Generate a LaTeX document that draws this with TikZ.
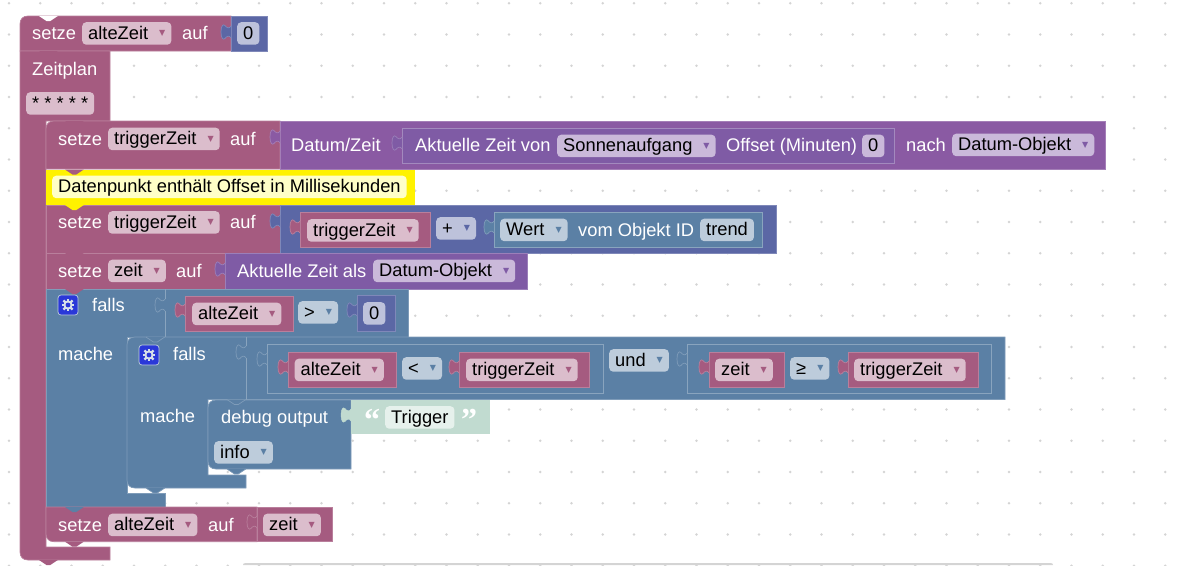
\documentclass[tikz,border=0pt]{standalone}
\usepackage{fontspec}
\setmainfont{Liberation Sans}
\newfontfamily\symfont{DejaVu Sans}
\newfontfamily\quotefont{Liberation Serif}
\definecolor{griddot}{HTML}{D4D4D4}
\definecolor{pinkblock}{HTML}{A55B80}
\definecolor{blueblock}{HTML}{5B80A5}
\definecolor{indigoblock}{HTML}{5B67A5}
\definecolor{dateblock}{HTML}{8A5AA3}
\definecolor{timeblock}{HTML}{7F5BA5}
\definecolor{textblock}{HTML}{C1DBD0}
\definecolor{pinkfield}{HTML}{DBBDCC}
\definecolor{bluefield}{HTML}{BDCCDB}
\definecolor{indigofield}{HTML}{BDC2DB}
\definecolor{purplefield}{HTML}{CAB9DA}
\definecolor{textfield}{HTML}{E6F1EC}
\definecolor{notefield}{HTML}{FFFFC7}
\definecolor{gearblue}{HTML}{2A38D8}
\newcommand{\drop}[1]{\hspace{11pt}\raisebox{3.5pt}{\symfont\fontsize{8}{8}\selectfont\textcolor{#1}{▼}}\hspace{9pt}}
\begin{document}
\begin{tikzpicture}[x=1pt,y=-1pt,font=\fontsize{18.3}{22}\selectfont]
	\tikzset{block/.style = {fill=#1, draw=#1!78!white, line width=.7pt}}
	\tikzset{wrap/.style = {draw=#1!72!white, line width=.7pt}}
	\tikzset{lbl/.style = {text=white, inner sep=0pt, anchor=base west}}
	\tikzset{field/.style = {fill=#1, text=black, anchor=north west, rounded corners=4pt, inner xsep=6pt, inner ysep=0pt, text height=17pt, text depth=5.5pt}}
	\tikzset{tab/.pic = {\path[pic actions] (0,1) .. controls (-2,4) and (-4,3) .. (-6,.5) .. controls (-8,-1.5) and (-10,1) .. (-10,7) .. controls (-10,13) and (-8,15.5) .. (-6,13.5) .. controls (-4,11) and (-2,10) .. (0,13);}}
	\tikzset{notch/.pic = {\path[pic actions] (0,0) -- (7.5,5) -- (11.25,5) -- (18.75,0);}}
	\tikzset{gearbox/.pic = {
		\draw[fill=gearblue, draw=bluefield, line width=.7pt, rounded corners=3pt] (0,0) rectangle (20,20);
		\foreach \a in {0,45,...,315} \draw[bluefield!60!white, line width=2.2pt] (10,10) ++(\a:3.5) -- ++(\a:2.9);
		\fill[bluefield!60!white] (10,10) circle (4.6);
		\fill[gearblue] (10,10) circle (2.4);}}
	\useasboundingbox (0,0) rectangle (1185,565);
	% Background grid
	\foreach \i in {0,...,37} \foreach \j in {0,...,18}
		\fill[griddot] ({9+31.25*\i},{3.3+31.25*\j}) circle (1.4);
	\fill[griddot] (243,565) .. controls (243,563.5) and (244,563) .. (246,563) -- (1050,563) .. controls (1052,563) and (1053,563.5) .. (1053,565) -- cycle;
	% Top block
	\draw[block=pinkblock] (20,51) -- (20,24) .. controls (20,19) and (23,16) .. (28,16) -- (231,16) -- (231,51) -- cycle;
	\node[lbl] (setzeA) at (32,39) {setze};
	\node[field=pinkfield] (alteZeitA) at (82,22) {alteZeit\drop{pinkblock}};
	\node[lbl] (aufA) at (182,39) {auf};
	\draw[block=indigoblock] (231,16) rectangle (267,51);
	\pic[block=indigoblock] at (231,25) {tab};
	\node[field=indigofield] (nullA) at (237,22) {0};
	% Zeitplan
	\draw[block=pinkblock] (20,51) -- (110,51) -- (110,121) -- (46,121) -- (46,547) -- (110,547) -- (110,560) -- (28,560) .. controls (23,560) and (20,557) .. (20,552) -- cycle;
	\node[lbl] (zeitplan) at (32,75) {Zeitplan};
	\node[field=pinkfield] (cron) at (26,92) {* * * * *};
	% setze triggerZeit, Datum/Zeit
	\draw[block=pinkblock] (46,169) -- (46,129) .. controls (46,124) and (49,121) .. (54,121) -- (280,121) -- (280,169) -- cycle;
	\node[lbl] (setzeB) at (58,145) {setze};
	\node[field=pinkfield] (triggerB) at (108,127.5) {triggerZeit\drop{pinkblock}};
	\node[lbl] (aufB) at (230,145) {auf};
	\draw[block=dateblock] (280,121) rectangle (1105,169);
	\pic[block=dateblock] at (280,130) {tab};
	\node[lbl] (datum) at (291,151) {Datum/Zeit};
	\draw[block=timeblock] (402,128) rectangle (894,163.5);
	\draw[wrap=timeblock] (402,128) rectangle (894,163.5);
	\pic[block=timeblock] at (402,136) {tab};
	\node[lbl] (aktuellB) at (415,151.5) {Aktuelle Zeit von};
	\node[field=purplefield] (sonne) at (557,134.5) {Sonnenaufgang\drop{timeblock}};
	\node[lbl] (offset) at (726,151.5) {Offset (Minuten)};
	\node[field=purplefield] (nullB) at (862,134.5) {0};
	\node[lbl] (nach) at (906,151) {nach};
	\node[field=purplefield] (objektB) at (952,133.5) {Datum-Objekt\drop{timeblock}};
	% Kommentar
	\fill[yellow] (46,169.5) rectangle (415,205);
	\node[field=notefield] (note) at (52,175.5) {Datenpunkt enthält Offset in Millisekunden};
	% setze triggerZeit, Summe
	\draw[block=pinkblock] (46,205) rectangle (280,253);
	\node[lbl] (setzeC) at (58,228) {setze};
	\node[field=pinkfield] (triggerC) at (108,211) {triggerZeit\drop{pinkblock}};
	\node[lbl] (aufC) at (230,228) {auf};
	\draw[block=indigoblock] (280,205) rectangle (776,253);
	\pic[block=indigoblock] at (280,214) {tab};
	\draw[block=pinkblock] (300,212) rectangle (430,247.5);
	\pic[block=pinkblock] at (300,220) {tab};
	\node[field=pinkfield] (triggerD) at (307,219) {triggerZeit\drop{pinkblock}};
	\node[field=indigofield] (plus) at (436,217) {+\drop{indigoblock}};
	\draw[block=blueblock] (494,212) rectangle (762,247.5);
	\draw[wrap=blueblock] (494,212) rectangle (762,247.5);
	\pic[block=blueblock] at (494,220) {tab};
	\node[field=bluefield] (wert) at (500,218.5) {Wert\drop{blueblock}};
	\node[lbl] (vom) at (578,236) {vom Objekt ID};
	\node[field=bluefield] (trend) at (700,218.5) {trend};
	% setze zeit
	\draw[block=pinkblock] (46,253) rectangle (225,289);
	\node[lbl] (setzeE) at (58,277) {setze};
	\node[field=pinkfield] (zeitE) at (108,259.5) {zeit\drop{pinkblock}};
	\node[lbl] (aufE) at (176,277) {auf};
	\draw[block=timeblock] (225,253) rectangle (527,289);
	\pic[block=timeblock] at (225,262) {tab};
	\node[lbl] (aktuellE) at (237,277) {Aktuelle Zeit als};
	\node[field=purplefield] (objektE) at (373,259.5) {Datum-Objekt\drop{timeblock}};
	% Aeusseres falls
	\draw[block=blueblock] (46,289) -- (408,289) -- (408,337) -- (127,337) -- (127,493) -- (165,493) -- (165,507) -- (46,507) -- cycle;
	\draw[wrap=blueblock] (165,289) -- (165,299);
	\draw[wrap=blueblock] (165,311) -- (165,337);
	\pic[block=blueblock] at (165,298) {tab};
	\pic at (58,295) {gearbox};
	\node[lbl] (fallsF) at (92,311.5) {falls};
	\node[lbl] (macheF) at (58,360) {mache};
	\draw[block=pinkblock] (185,296) rectangle (293,331.5);
	\pic[block=pinkblock] at (185,303) {tab};
	\node[field=pinkfield] (alteZeitF) at (192,302.5) {alteZeit\drop{pinkblock}};
	\node[field=bluefield] (groesser) at (298,301) {>\drop{blueblock}};
	\draw[block=indigoblock] (357,295.5) rectangle (395,331.5);
	\pic[block=indigoblock] at (357,303) {tab};
	\node[field=indigofield] (nullF) at (363,302) {0};
	% Inneres falls
	\draw[block=blueblock] (127,345) .. controls (127,340) and (130,337) .. (135,337) -- (1005,337) -- (1005,399.5) -- (208,399.5) -- (208,475) -- (246,475) -- (246,488) -- (135,488) .. controls (130,488) and (127,485) .. (127,480) -- cycle;
	\draw[wrap=blueblock] (246,337) -- (246,346);
	\draw[wrap=blueblock] (246,358) -- (246,399.5);
	\pic[block=blueblock] at (246,345) {tab};
	\pic at (139,345) {gearbox};
	\node[lbl] (fallsG) at (173,360.5) {falls};
	\node[lbl] (macheG) at (140,422) {mache};
	\draw[wrap=blueblock] (267,344) rectangle (603,393);
	\pic[block=blueblock] at (267,352) {tab};
	\draw[block=pinkblock] (288,352) rectangle (396,387);
	\pic[block=pinkblock] at (288,360) {tab};
	\node[field=pinkfield] (alteZeitG) at (294.5,358.5) {alteZeit\drop{pinkblock}};
	\node[field=bluefield] (kleiner) at (402,357) {<\drop{blueblock}};
	\draw[block=pinkblock] (459,352) rectangle (589,387);
	\pic[block=pinkblock] at (459,360) {tab};
	\node[field=pinkfield] (triggerG) at (466,358.5) {triggerZeit\drop{pinkblock}};
	\node[field=bluefield] (und) at (609,349) {und\drop{blueblock}};
	\draw[wrap=blueblock] (687,344) rectangle (991,393);
	\pic[block=blueblock] at (687,352) {tab};
	\draw[block=pinkblock] (709,352) rectangle (784,387);
	\pic[block=pinkblock] at (709,360) {tab};
	\node[field=pinkfield] (zeitH) at (715,358.5) {zeit\drop{pinkblock}};
	\node[field=bluefield] (gleich) at (790,357) {≥\drop{blueblock}};
	\draw[block=pinkblock] (848,352) rectangle (978,387);
	\pic[block=pinkblock] at (848,360) {tab};
	\node[field=pinkfield] (triggerH) at (854,358.5) {triggerZeit\drop{pinkblock}};
	% debug output
	\draw[block=blueblock] (208,408) .. controls (208,403) and (211,400) .. (216,400) -- (351,400) -- (351,469) -- (216,469) .. controls (211,469) and (208,466) .. (208,461) -- cycle;
	\node[lbl] (debug) at (221,423) {debug output};
	\node[field=bluefield] (info) at (214,441) {info\drop{blueblock}};
	\fill[textblock] (351,400) rectangle (490,434);
	\pic[fill=textblock, draw=textblock] at (351,408) {tab};
	\node[lbl, font=\quotefont\bfseries\fontsize{32}{32}\selectfont] (quoteL) at (364,430) {“};
	\node[field=textfield] (trigger) at (385,406) {Trigger};
	\node[lbl, font=\quotefont\bfseries\fontsize{32}{32}\selectfont] (quoteR) at (461,430) {”};
	% setze alteZeit
	\draw[block=pinkblock] (46,507) -- (257,507) -- (257,541.7) -- (54,541.7) .. controls (49,541.7) and (46,538.7) .. (46,533.7) -- cycle;
	\node[lbl] (setzeI) at (58,531) {setze};
	\node[field=pinkfield] (alteZeitI) at (108,513.5) {alteZeit\drop{pinkblock}};
	\node[lbl] (aufI) at (208,531) {auf};
	\draw[block=pinkblock] (257,507) rectangle (332,541.7);
	\pic[block=pinkblock] at (257,515) {tab};
	\node[field=pinkfield] (zeitI) at (263,513.5) {zeit\drop{pinkblock}};
	% Notches
	\pic[fill=white] at (39,16) {notch};
	\pic[fill=pinkblock] at (39,51) {notch};
	\pic[fill=pinkblock] at (65,121) {notch};
	\pic[fill=pinkblock] at (65,169.5) {notch};
	\pic[fill=yellow] at (65,205) {notch};
	\pic[fill=pinkblock] at (65,253) {notch};
	\pic[fill=pinkblock] at (65,289) {notch};
	\pic[fill=blueblock] at (65,507) {notch};
	\pic[fill=pinkblock] at (65,541.7) {notch};
	\pic[block=blueblock] at (146,337) {notch};
	\pic[block=blueblock] at (146,488) {notch};
	\pic[block=blueblock] at (227,399.5) {notch};
	\pic[block=blueblock] at (227,469) {notch};
	\pic[fill=pinkblock] at (39,560) {notch};
\end{tikzpicture}
\end{document}
